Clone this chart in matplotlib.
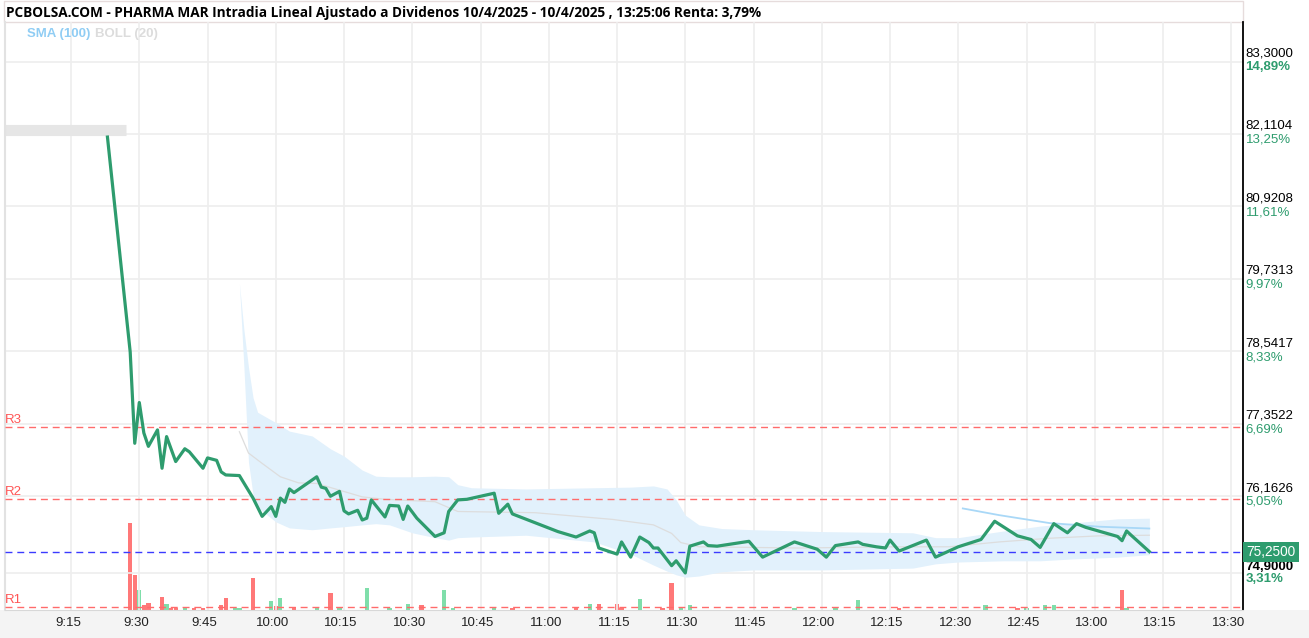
import numpy as np
import pandas as pd
import matplotlib
matplotlib.use("Agg")
import matplotlib.pyplot as plt
import matplotlib.dates as mdates
from matplotlib.patches import Rectangle
from matplotlib.transforms import ScaledTranslation

DAY = "2025-04-10 "

# linea intradia
times = ["09:23", "09:28", "09:29", "09:30", "09:31", "09:32", "09:34", "09:35", "09:36", "09:38",
         "09:40", "09:41", "09:44", "09:45", "09:47", "09:48", "09:49", "09:52", "09:55", "09:57",
         "09:59", "10:00", "10:01", "10:02", "10:03", "10:04", "10:09", "10:10", "10:11", "10:12",
         "10:14", "10:15", "10:16", "10:18", "10:19", "10:20", "10:21", "10:24", "10:25", "10:27",
         "10:28", "10:29", "10:31", "10:35", "10:37", "10:38", "10:40", "10:42", "10:48", "10:49",
         "10:51", "10:52", "11:02", "11:06", "11:09", "11:10", "11:11", "11:15", "11:16", "11:18",
         "11:20", "11:22", "11:23", "11:24", "11:27", "11:28", "11:30", "11:31", "11:34", "11:35",
         "11:37", "11:44", "11:47", "11:54", "11:59", "12:01", "12:03", "12:08", "12:09", "12:12",
         "12:14", "12:15", "12:17", "12:23", "12:25", "12:30", "12:35", "12:38", "12:43", "12:46",
         "12:48", "12:51", "12:54", "12:56", "12:58", "13:05", "13:06", "13:07", "13:08", "13:12"]
prices = [82.06, 78.53, 77.03, 77.70, 77.20, 76.98, 77.25, 76.62, 77.14, 76.73,
          76.94, 76.89, 76.62, 76.79, 76.75, 76.56, 76.51, 76.50, 76.13, 75.83,
          75.99, 75.83, 76.13, 76.06, 76.28, 76.22, 76.48, 76.31, 76.29, 76.16,
          76.24, 75.92, 75.87, 75.93, 75.77, 75.80, 76.10, 75.82, 76.01, 76.00,
          75.78, 76.00, 75.80, 75.50, 75.56, 75.91, 76.10, 76.11, 76.21, 75.88,
          76.03, 75.87, 75.58, 75.49, 75.59, 75.56, 75.31, 75.21, 75.41, 75.16,
          75.49, 75.40, 75.31, 75.31, 75.02, 75.10, 74.90, 75.34, 75.41, 75.35,
          75.34, 75.42, 75.16, 75.41, 75.29, 75.16, 75.35, 75.41, 75.37, 75.33,
          75.31, 75.44, 75.26, 75.44, 75.16, 75.33, 75.45, 75.75, 75.51, 75.45,
          75.32, 75.71, 75.56, 75.71, 75.65, 75.50, 75.43, 75.59, 75.52, 75.25]

# BOLL (20)
boll_times = ["09:52", "09:53", "09:54", "09:55", "09:56", "10:00", "10:03", "10:08", "10:12", "10:15",
              "10:19", "10:22", "10:25", "10:30", "10:35", "10:38", "10:40", "10:43", "10:55", "11:10",
              "11:18", "11:23", "11:26", "11:28", "11:30", "11:33", "11:38", "11:45", "12:00", "12:20",
              "12:25", "12:30", "12:40", "12:48", "12:55", "13:05", "13:12"]
boll_upper = [79.66, 78.89, 78.28, 77.78, 77.54, 77.37, 77.23, 77.15, 76.94, 76.82,
              76.59, 76.49, 76.48, 76.48, 76.49, 76.48, 76.35, 76.30, 76.28, 76.30,
              76.31, 76.33, 76.28, 76.10, 75.85, 75.69, 75.63, 75.61, 75.58, 75.56,
              75.48, 75.48, 75.59, 75.67, 75.72, 75.79, 75.80]
boll_lower = [79.66, 78.27, 76.72, 76.18, 75.98, 75.74, 75.64, 75.61, 75.64, 75.66,
              75.69, 75.71, 75.69, 75.56, 75.48, 75.44, 75.48, 75.49, 75.52, 75.41,
              75.21, 75.03, 74.93, 74.87, 74.83, 74.85, 74.92, 74.95, 74.95, 74.98,
              75.05, 75.08, 75.10, 75.10, 75.13, 75.16, 75.20]
mid_times = ["09:52", "09:54", "09:57", "10:01", "10:05", "10:09", "10:14", "10:19", "10:24", "10:35",
             "10:40", "10:57", "11:14", "11:23", "11:27", "11:29", "11:33", "11:55", "12:17", "12:28",
             "12:39", "12:50", "13:01", "13:12"]
boll_mid = [77.22, 76.87, 76.70, 76.48, 76.38, 76.37, 76.26, 76.15, 76.11, 76.07,
            75.91, 75.89, 75.78, 75.69, 75.55, 75.40, 75.33, 75.31, 75.33, 75.33,
            75.41, 75.47, 75.51, 75.52]

# SMA (100)
sma_times = ["12:31", "12:39", "12:50", "13:01", "13:12"]
sma_vals = [75.96, 75.85, 75.72, 75.66, 75.63]

# volumen
vol_times = ["09:28", "09:29", "09:30", "09:31", "09:32", "09:35", "09:36", "09:37", "09:38", "09:40",
             "09:42", "09:44", "09:48", "09:49", "09:51", "09:52", "09:55", "09:59", "10:00", "10:01",
             "10:04", "10:09", "10:12", "10:14", "10:20", "10:25", "10:29", "10:32", "10:37", "10:39",
             "10:48", "10:52", "11:06", "11:09", "11:11", "11:15", "11:16", "11:20", "11:25", "11:27",
             "11:29", "11:31", "11:54", "12:03", "12:08", "12:17", "12:36", "12:43", "12:45", "12:49",
             "12:51", "13:06", "13:07"]
vols = [8700, 3500, 2000, 500, 700, 1300, 600, 200, 200, 300,
        200, 200, 500, 1200, 200, 200, 3200, 900, 400, 1200,
        300, 200, 1700, 200, 2200, 200, 600, 500, 2000, 200,
        200, 200, 300, 600, 600, 600, 200, 1100, 200, 2700,
        200, 500, 200, 200, 1000, 200, 500, 200, 200, 500,
        500, 2000, 200]
vol_side = ["r", "r", "g", "r", "r", "r", "g", "r", "r", "g",
            "r", "r", "r", "r", "g", "g", "r", "g", "r", "g",
            "r", "g", "r", "g", "g", "g", "g", "r", "g", "g",
            "g", "r", "r", "g", "r", "r", "r", "g", "r", "r",
            "g", "g", "g", "g", "g", "r", "g", "r", "g", "g",
            "g", "r", "g"]

price_ticks = [83.3, 82.1104, 80.9208, 79.7313, 78.5417, 77.3522, 76.1626, 74.9]
x_ticks = ["09:15", "09:30", "09:45", "10:00", "10:15", "10:30", "10:45", "11:00", "11:15",
           "11:30", "11:45", "12:00", "12:15", "12:30", "12:45", "13:00", "13:15", "13:30"]
prev_close = 72.50
last_price = 75.25
pivot_names = ["R3", "R2", "R1"]
pivot_levels = [77.30, 76.11, 74.34]
open_level = 82.17
open_end = "09:27"


def tn(lst):
    return mdates.date2num(pd.to_datetime([DAY + s for s in lst]))


GREEN = "#2e9c6e"
W, H = 1309, 638


def box(x0, y0, x1, y1):
    return [x0 / W, 1 - y1 / H, (x1 - x0) / W, (y1 - y0) / H]


fig = plt.figure(figsize=(W / 100, H / 100), dpi=100)
fig.patch.set_facecolor("white")
# franja inferior del eje de tiempo
fig.add_artist(Rectangle((0, 0), 1, (H - 610) / H, transform=fig.transFigure,
                         facecolor="#f4f4f4", edgecolor="none", zorder=0))

ax = fig.add_axes(box(5, 22, 1243, 609.5))
axv = ax.twinx()
ax.set_zorder(axv.get_zorder() + 1)
ax.patch.set_visible(False)

x0 = mdates.date2num(pd.Timestamp(DAY + "09:00:29"))
x1 = mdates.date2num(pd.Timestamp(DAY + "13:32:35"))
ax.set_xlim(x0, x1)
ax.set_ylim(74.30, 83.95)
axv.set_ylim(0, 58750)

# volumen
vcol = {"r": "#ff7878", "g": "#7fdeaa"}
axv.bar(tn(vol_times), vols, width=0.95 / 1440, color=[vcol[c] for c in vol_side],
        linewidth=0)
axv.set_yticks([])
for s in axv.spines.values():
    s.set_visible(False)

# rejilla
for t in tn(x_ticks):
    ax.axvline(t, color="#eeeeee", lw=1.2, zorder=0)
for p in price_ticks:
    ax.axhline(p, color="#eeeeee", lw=1.2, zorder=0)

# BOLL y SMA
ax.fill_between(tn(boll_times), boll_lower, boll_upper, color="#e2f1fc", lw=0, zorder=1)
ax.plot(tn(mid_times), boll_mid, color="#dddddd", lw=0.9, zorder=2)
ax.plot(tn(sma_times), sma_vals, color="#a9d8f7", lw=1.3, zorder=2)

# banda de apertura
ax.hlines(open_level, x0, tn([open_end])[0], color="#e6e6e6", lw=8, zorder=1)

# pivotes
for name, lvl in zip(pivot_names, pivot_levels):
    ax.axhline(lvl, color="#ff6b6b", lw=1, dashes=(5, 3.5), zorder=3)
    ax.annotate(name, xy=(0, lvl), xycoords=("axes fraction", "data"), xytext=(0, 5),
                textcoords="offset points", color="#ff5555", fontsize=9.5,
                family="Liberation Sans", va="center", ha="left")
ax.axhline(last_price, color="#3b3bff", lw=1, dashes=(5, 3.5), zorder=3)

# linea de precio
ax.plot(tn(times), prices, color=GREEN, lw=2.3, zorder=4, solid_joinstyle="round")

# eje de tiempo
ax.set_xticks(tn(x_ticks))
ax.set_xticklabels([s.lstrip("0") for s in x_ticks], fontsize=9.5, family="Liberation Sans",
                   color="#222222")
ax.tick_params(axis="x", length=0, pad=5.5)
for lab in ax.get_xticklabels():
    lab.set_transform(lab.get_transform() + ScaledTranslation(-0.03, 0, fig.dpi_scale_trans))
ax.set_yticks([])
ax.spines["top"].set_visible(False)
ax.spines["left"].set_color("#e2e2e2")
ax.spines["left"].set_linewidth(1.5)
ax.spines["bottom"].set_color("#d8d8d8")
ax.spines["right"].set_color("black")
ax.spines["right"].set_linewidth(1.3)

# etiquetas de precio a la derecha
for p in price_ticks:
    pct = np.floor((p / prev_close - 1) * 10000) / 100
    edge = p in (price_ticks[0], price_ticks[-1])
    low = p == price_ticks[-1]
    ax.annotate(f"{p:.4f}".replace(".", ","), xy=(1, p), xycoords=("axes fraction", "data"),
                xytext=(1.8, 4.2 if low else 5.8), textcoords="offset points", fontsize=9.5,
                va="center", family="Liberation Sans", color="black",
                fontweight="bold" if low else "normal")
    ax.annotate(f"{pct:.2f}%".replace(".", ","), xy=(1, p), xycoords=("axes fraction", "data"),
                xytext=(1.8, -4.2), textcoords="offset points", fontsize=9.5, va="center",
                family="Liberation Sans", color=GREEN,
                fontweight="bold" if edge else "normal")
ax.annotate(f"{last_price:.4f}".replace(".", ","), xy=(1, last_price),
            xycoords=("axes fraction", "data"), xytext=(2.5, 0), textcoords="offset points",
            fontsize=9.8, va="center", family="Liberation Sans", color="white",
            bbox=dict(boxstyle="square,pad=0.22", fc=GREEN, ec="none"))

# cabecera
renta = (last_price / prev_close - 1) * 100
title = ("PCBOLSA.COM - PHARMA MAR Intradia Lineal Ajustado a Dividenos 10/4/2025 - 10/4/2025 , "
         "13:25:06 Renta: " + f"{np.floor(renta * 100) / 100:.2f}".replace(".", ",") + "%")
fig.add_artist(Rectangle((4 / W, 1 - 22 / H), (1243 - 4) / W, 21 / H, transform=fig.transFigure,
                         facecolor="white", edgecolor="#e6dcdc", lw=1))
fig.text(6 / W, 1 - 13 / H, title, fontsize=9.85, fontweight="bold", family="Open Sans",
         va="center", ha="left")
fig.text(27 / W, 1 - 34 / H, "SMA (100)", fontsize=9.5, fontweight="bold", color="#90cdf4",
         family="Liberation Sans", va="center")
fig.text(95 / W, 1 - 34 / H, "BOLL (20)", fontsize=9.5, fontweight="bold", color="#dcdcdc",
         family="Liberation Sans", va="center")

fig.savefig("out.png", dpi=100)
